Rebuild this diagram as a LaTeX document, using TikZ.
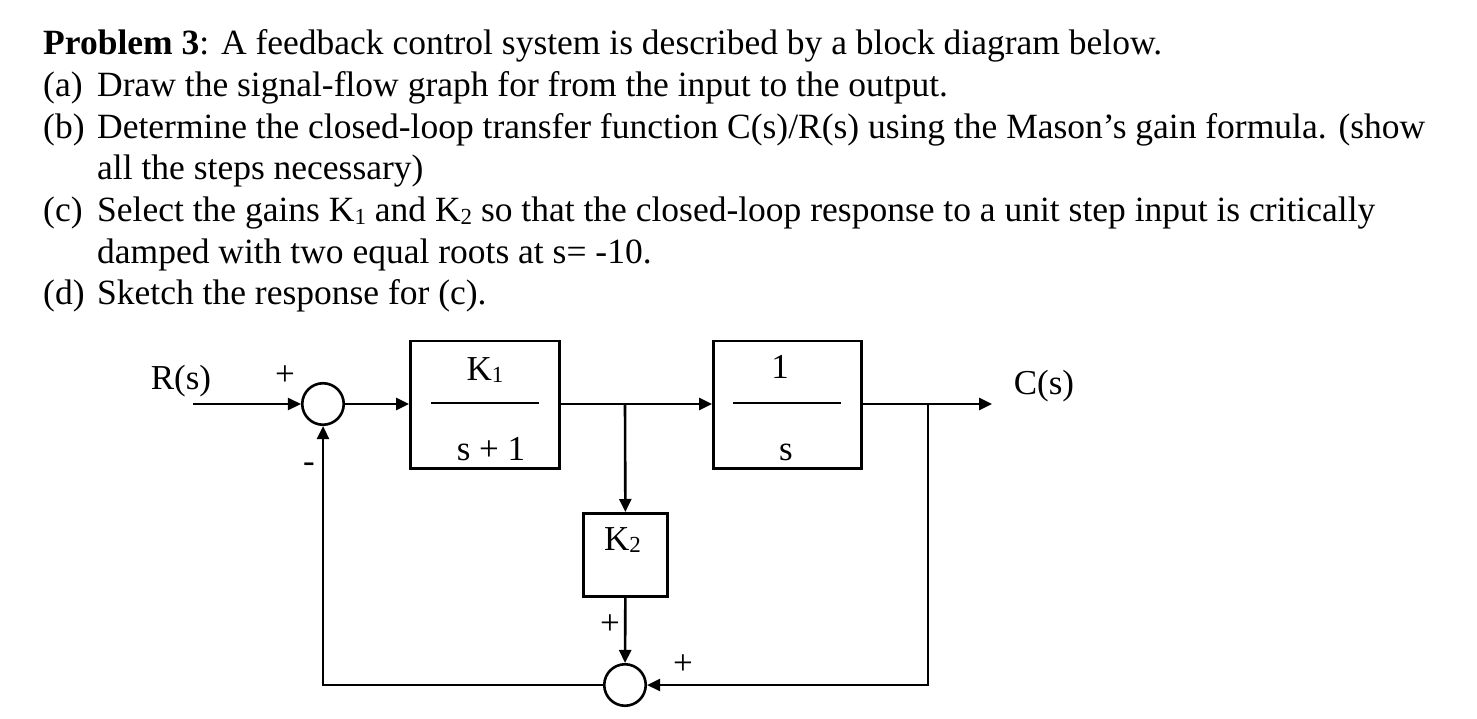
\documentclass[tikz,border=0pt]{standalone}
\usepackage{fontspec}
\setmainfont{Liberation Serif}
\usetikzlibrary{arrows.meta}
\newcommand{\sbs}[1]{\raisebox{-0.07em}{\fontsize{23}{23}\selectfont #1}}
\begin{document}
\begin{tikzpicture}[x=1pt,y=-1pt,
  txt/.style={inner sep=0pt, anchor=base west, font=\fontsize{35.5}{41.7}\selectfont},
  lbl/.style={inner sep=0pt, anchor=base, font=\fontsize{35}{40}\selectfont},
  blk/.style={draw, line width=2.6pt, inner sep=0pt},
  sumc/.style={draw, circle, line width=2.6pt, minimum size=41.5pt, inner sep=0pt},
  wire/.style={line width=2.6pt},
  bar/.style={line width=2.8pt},
  arr/.style={wire, -{Triangle[length=13pt,width=12pt]}}]
\fill[white] (0,0) rectangle (1477,719);
\useasboundingbox (0,0) rectangle (1477,719);

% ---- problem text ----
\node[txt] (t1) at (43,55) {\textbf{Problem 3}: A feedback control system is described by a block diagram below.};
\node[txt] (la) at (43,96.7) {(a)};
\node[txt] (ta) at (97,96.7) {Draw the signal-flow graph for from the input to the output.};
\node[txt] (lb) at (43,138.3) {(b)};
\node[txt] (tb) at (97,138.3) {Determine the closed-loop transfer function C(s)/R(s) using the Mason’s gain formula. (show};
\node[txt] (tb2) at (97,180) {all the steps necessary)};
\node[txt] (lc) at (43,221.7) {(c)};
\node[txt] (tc) at (97,221.7) {Select the gains K\sbs{1} and K\sbs{2} so that the closed-loop response to a unit step input is critically};
\node[txt] (tc2) at (97,263.3) {damped with two equal roots at s= -10.};
\node[txt] (ld) at (43,305) {(d)};
\node[txt] (td) at (97,305) {Sketch the response for (c).};

% ---- block diagram ----
\coordinate (rin) at (193,404);
\node[sumc] (s1) at (323,404) {};
\node[blk, minimum width=149.4pt, minimum height=127.4pt] (k1) at (485,404.5) {};
\node[blk, minimum width=148.4pt, minimum height=127.4pt] (g2) at (787.5,404.5) {};
\node[blk, minimum width=84.4pt, minimum height=83.4pt] (k2) at (625.5,555) {};
\node[sumc] (s2) at (625,685) {};
\coordinate (br1) at (625,404);
\coordinate (br2) at (928,404);
\coordinate (cout) at (992,404);

% block contents
\draw[bar] (431,403) -- (539,403);
\node[lbl] (k1n) at (485,380) {K\sbs{1}};
\node[lbl] (k1d) at (491,460) {s + 1};
\draw[bar] (733,403) -- (841,403);
\node[lbl] (g2n) at (780,378) {1};
\node[lbl] (g2d) at (786,460) {s};
\node[lbl, anchor=base west] (k2t) at (604,550) {K\sbs{2}};

% signal labels
\node[lbl] (rlab) at (181,389) {R(s)};
\node[lbl] (clab) at (1044,394) {C(s)};
\node[lbl] (p1) at (285,385) {+};
\node[lbl] (m1) at (309,472) {-};
\node[lbl] (p2) at (610,634) {+};
\node[lbl] (p3) at (683,674) {+};

% connectors
\draw[arr] (rin) -- (s1);
\draw[arr] (s1) -- (k1.west |- s1);
\draw[wire] (k1.east |- br1) -- (br1);
\draw[arr] (br1) -- (g2.west |- br1);
\draw[arr] (br1) -- (k2);
\draw[arr] (k2) -- (s2);
\draw[wire] (g2.east |- br2) -- (br2);
\draw[arr] (br2) -- (cout);
\draw[arr] (br2) |- (s2);
\draw[arr] (s2) -| (s1);
\end{tikzpicture}
\end{document}
